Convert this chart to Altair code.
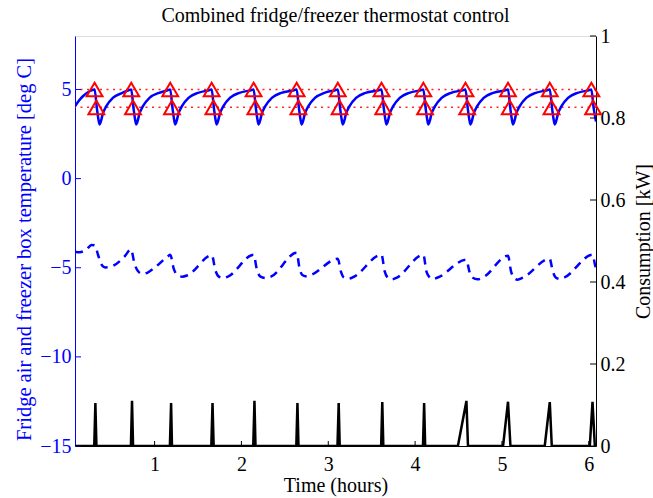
import altair as alt
import pandas as pd

# ---------------- data ----------------
# Fridge air temperature (deg C)
fridge_t = [
    0.0833, 0.13, 0.174, 0.25,
    0.309, 0.334, 0.354, 0.367, 0.384, 0.401, 0.444, 0.519, 0.629, 0.701,
    0.731, 0.756, 0.776, 0.789, 0.806, 0.823, 0.866, 0.941, 1.051, 1.150,
    1.180, 1.205, 1.225, 1.238, 1.255, 1.272, 1.315, 1.390, 1.500, 1.627,
    1.657, 1.682, 1.702, 1.715, 1.732, 1.749, 1.792, 1.867, 1.977, 2.110,
    2.140, 2.165, 2.185, 2.198, 2.215, 2.232, 2.275, 2.350, 2.460, 2.606,
    2.636, 2.661, 2.681, 2.694, 2.711, 2.728, 2.771, 2.846, 2.956, 3.080,
    3.110, 3.135, 3.155, 3.168, 3.185, 3.202, 3.245, 3.320, 3.430, 3.583,
    3.613, 3.638, 3.658, 3.671, 3.688, 3.705, 3.748, 3.823, 3.933, 4.065,
    4.095, 4.120, 4.140, 4.153, 4.170, 4.187, 4.230, 4.305, 4.415, 4.550,
    4.580, 4.605, 4.625, 4.638, 4.655, 4.672, 4.715, 4.790, 4.900, 5.040,
    5.070, 5.095, 5.115, 5.128, 5.145, 5.162, 5.205, 5.280, 5.390, 5.521,
    5.551, 5.576, 5.596, 5.609, 5.626, 5.643, 5.686, 5.761, 5.871, 6.000,
    6.030, 6.055, 6.0833,
]
fridge_temp = [
    4.05, 4.38, 4.62, 4.90,
    5.0, 4.0, 3.3, 3.04, 3.25, 3.6, 4.07, 4.53, 4.81, 4.96,
    5.0, 4.0, 3.3, 3.04, 3.25, 3.6, 4.07, 4.53, 4.81, 4.96,
    5.0, 4.0, 3.3, 3.04, 3.25, 3.6, 4.07, 4.53, 4.81, 4.96,
    5.0, 4.0, 3.3, 3.04, 3.25, 3.6, 4.07, 4.53, 4.81, 4.96,
    5.0, 4.0, 3.3, 3.04, 3.25, 3.6, 4.07, 4.53, 4.81, 4.96,
    5.0, 4.0, 3.3, 3.04, 3.25, 3.6, 4.07, 4.53, 4.81, 4.96,
    5.0, 4.0, 3.3, 3.04, 3.25, 3.6, 4.07, 4.53, 4.81, 4.96,
    5.0, 4.0, 3.3, 3.04, 3.25, 3.6, 4.07, 4.53, 4.81, 4.96,
    5.0, 4.0, 3.3, 3.04, 3.25, 3.6, 4.07, 4.53, 4.81, 4.96,
    5.0, 4.0, 3.3, 3.04, 3.25, 3.6, 4.07, 4.53, 4.81, 4.96,
    5.0, 4.0, 3.3, 3.04, 3.25, 3.6, 4.07, 4.53, 4.81, 4.96,
    5.0, 4.0, 3.3, 3.04, 3.25, 3.6, 4.07, 4.53, 4.81, 4.96,
    5.0, 4.0, 3.2,
]

# Freezer box temperature (deg C)
freezer_t = [
    0.0833, 0.136, 0.217, 0.274, 0.31,
    0.35, 0.385, 0.43, 0.49, 0.654, 0.728,
    0.77, 0.81, 0.86, 0.92, 1.0, 1.15, 1.18,
    1.22, 1.26, 1.32, 1.38, 1.66,
    1.70, 1.74, 1.79, 1.85, 2.14,
    2.18, 2.22, 2.28, 2.34, 2.636,
    2.67, 2.70, 2.74, 2.80, 3.11,
    3.145, 3.18, 3.23, 3.29, 3.613,
    3.65, 3.69, 3.73, 3.79, 4.095,
    4.13, 4.17, 4.20, 4.26, 4.59,
    4.625, 4.66, 4.72, 4.78, 5.07,
    5.105, 5.14, 5.18, 5.24, 5.55,
    5.585, 5.62, 5.665, 5.72, 6.045,
    6.07, 6.0833,
]
freezer_temp = [
    -4.10, -4.13, -3.97, -3.72, -3.74,
    -4.30, -4.80, -4.98, -4.95, -4.37, -3.97,
    -4.80, -5.20, -5.35, -5.27, -5.00, -4.37, -4.27,
    -5.05, -5.40, -5.50, -5.42, -4.30,
    -5.15, -5.50, -5.58, -5.48, -4.27,
    -5.15, -5.50, -5.58, -5.50, -4.16,
    -5.05, -5.40, -5.48, -5.40, -4.50,
    -5.20, -5.55, -5.62, -5.52, -4.27,
    -5.20, -5.58, -5.66, -5.55, -4.27,
    -5.20, -5.55, -5.64, -5.55, -4.55,
    -5.20, -5.55, -5.65, -5.55, -4.33,
    -5.20, -5.58, -5.67, -5.56, -4.50,
    -5.20, -5.55, -5.63, -5.54, -4.27,
    -4.80, -5.05,
]

# Compressor consumption (kW)
power_t = [
    0.0833,
    0.305, 0.318, 0.330,
    0.727, 0.740, 0.752,
    1.176, 1.190, 1.200,
    1.653, 1.667, 1.680,
    2.136, 2.150, 2.162,
    2.632, 2.645, 2.657,
    3.106, 3.120, 3.132,
    3.609, 3.622, 3.634,
    4.091, 4.104, 4.116,
    4.493, 4.591, 4.609,
    5.013, 5.070, 5.098,
    5.493, 5.551, 5.574,
    6.012, 6.043, 6.070,
    6.0833,
]
power_kw = [
    0.0,
    0.0, 0.105, 0.0,
    0.0, 0.110, 0.0,
    0.0, 0.105, 0.0,
    0.0, 0.105, 0.0,
    0.0, 0.110, 0.0,
    0.0, 0.105, 0.0,
    0.0, 0.105, 0.0,
    0.0, 0.107, 0.0,
    0.0, 0.105, 0.0,
    0.0, 0.110, 0.0,
    0.0, 0.108, 0.0,
    0.0, 0.107, 0.0,
    0.0, 0.108, 0.0,
    0.0,
]

# thermostat switching events (hours)
switch_on_t = [0.309, 0.731, 1.180, 1.657, 2.140, 2.636, 3.110, 3.613, 4.095, 4.580, 5.070, 5.551, 6.030]
switch_off_t = [0.329, 0.751, 1.200, 1.677, 2.160, 2.656, 3.130, 3.633, 4.115, 4.600, 5.090, 5.571, 6.050]
upper_limit = 5
lower_limit = 4
thresholds = [upper_limit, lower_limit]

x_ticks = [1, 2, 3, 4, 5, 6]
left_ticks = [-15, -10, -5, 0, 5]
right_ticks = [0, 0.2, 0.4, 0.6, 0.8, 1]

# ---------------- chart ----------------
W, H = 521, 410
FONT = "Liberation Serif"
BLUE = "#0000ff"
RED = "#ff0000"

fridge_df = pd.DataFrame({"t": fridge_t, "temp": fridge_temp})
freezer_df = pd.DataFrame({"t": freezer_t, "temp": freezer_temp})
power_df = pd.DataFrame({"t": power_t, "kw": power_kw})
on_df = pd.DataFrame({"t": switch_on_t, "temp": [upper_limit] * len(switch_on_t)})
off_df = pd.DataFrame({"t": switch_off_t, "temp": [lower_limit] * len(switch_off_t)})
thr_df = pd.DataFrame({"temp": thresholds})
xt_df = pd.DataFrame({"t": x_ticks})
lt_df = pd.DataFrame({"temp": left_ticks})
rt_df = pd.DataFrame({"kw": right_ticks})

x_scale = alt.Scale(domain=[0.0833, 6.0833], nice=False, zero=False)
left_scale = alt.Scale(domain=[-15, 8], nice=False, zero=False)
right_scale = alt.Scale(domain=[0, 1], nice=False, zero=False)

x_axis = alt.Axis(
    values=x_ticks, format="d", tickSize=0, labelPadding=8, grid=False,
    domainColor="black", labelColor="black", titleColor="black",
    labelFont=FONT, labelFontSize=20, titleFont=FONT, titleFontSize=20,
    titleFontWeight="normal", title="Time (hours)", titlePadding=1,
)
left_axis = alt.Axis(
    values=left_ticks, format="d", tickSize=0, labelPadding=4, grid=False,
    domainColor=BLUE, labelColor=BLUE, titleColor=BLUE,
    labelFont=FONT, labelFontSize=20, titleFont=FONT, titleFontSize=20.5,
    titleFontWeight="normal", title="Fridge air and freezer box temperature [deg C]",
    titlePadding=5, titleY=213,
)
right_axis = alt.Axis(
    orient="right", values=right_ticks, format="~g", tickSize=0, labelPadding=4,
    grid=False, domainColor="black", labelColor="black", titleColor="black",
    labelFont=FONT, labelFontSize=20, titleFont=FONT, titleFontSize=20,
    titleFontWeight="normal", title="Consumption [kW]", titleAngle=270,
    titleBaseline="top", titlePadding=8,
)

X = alt.X("t:Q", scale=x_scale, axis=x_axis)
YL = alt.Y("temp:Q", scale=left_scale, axis=left_axis)
YR = alt.Y("kw:Q", scale=right_scale, axis=right_axis)

thr = alt.Chart(thr_df).mark_rule(color=RED, strokeWidth=1.5, strokeDash=[2, 4.5], opacity=0.85).encode(y=YL)
fridge = alt.Chart(fridge_df).mark_line(color=BLUE, strokeWidth=2.5, interpolate="monotone", clip=True).encode(x=X, y=YL)
freezer = alt.Chart(freezer_df).mark_line(color=BLUE, strokeWidth=2.5, strokeDash=[8, 6], interpolate="monotone", clip=True).encode(x=X, y=YL)
tri_on = alt.Chart(on_df).mark_point(shape="triangle-up", filled=False, color=RED, strokeWidth=2, size=250, opacity=1).encode(x=X, y=YL)
tri_off = alt.Chart(off_df).mark_point(shape="triangle-up", filled=False, color=RED, strokeWidth=2, size=250, opacity=1).encode(x=X, y=YL)
lticks = alt.Chart(lt_df).mark_rule(color=BLUE, strokeWidth=1).encode(y=YL, x=alt.value(0), x2=alt.value(6))
xticks = alt.Chart(xt_df).mark_rule(color="black", strokeWidth=1).encode(x=X, y=alt.value(H - 5), y2=alt.value(H))

power = alt.Chart(power_df).mark_line(color="black", strokeWidth=2.5, clip=True).encode(x=X, y=YR)
rticks = alt.Chart(rt_df).mark_rule(color="black", strokeWidth=1).encode(y=YR, x=alt.value(W - 6), x2=alt.value(W))

left = alt.layer(thr, fridge, freezer, tri_on, tri_off, lticks, xticks)
right = alt.layer(power, rticks)

chart = (
    alt.layer(left, right)
    .resolve_scale(y="independent")
    .properties(
        width=W, height=H,
        autosize=alt.AutoSizeParams(type="none"),
        padding={"left": 75, "top": 36, "right": 57, "bottom": 52},
        title=alt.TitleParams(
            text="Combined fridge/freezer thermostat control",
            font=FONT, fontSize=20, fontWeight="normal", color="black",
            anchor="middle", offset=0,
        ),
    )
    .configure_view(stroke=None)
    .configure(background="white")
)

chart.save("out.html", embed_options={"renderer": "svg", "actions": False})
